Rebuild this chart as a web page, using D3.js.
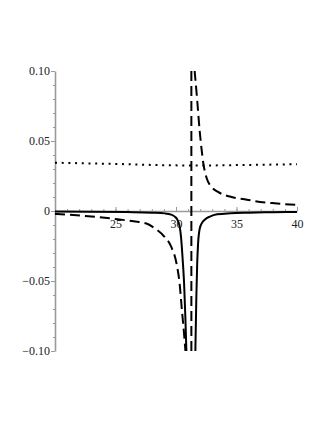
<!DOCTYPE html>
<html>
<head>
<meta charset="utf-8">
<script src="https://cdn.jsdelivr.net/npm/d3@7"></script>
<style>
  html, body { margin: 0; padding: 0; background: #fff; }
  #chart { width: 327px; height: 423px; }
</style>
</head>
<body>
<div id="chart"></div>
<script>
/* Three curves around a pole near x = 31.3, Maple-style axes. */

var xTicks = [25, 30, 35, 40];
var yTicks = [-0.10, -0.05, 0, 0.05, 0.10];
var yTickLabels = ["\u22120.10", "\u22120.05", "0", "0.05", "0.10"];

var solidLeftX = [20, 23, 26, 28, 29.1, 29.6, 29.9, 30.15, 30.3, 30.42, 30.5, 30.6, 30.67, 30.77, 30.86];
var solidLeftY = [-0.0004, -0.0005, -0.0008, -0.0012, -0.0017, -0.0026, -0.004, -0.0068, -0.011, -0.019, -0.028, -0.041, -0.052, -0.075, -0.1];
var solidRightX = [31.6, 31.68, 31.75, 31.82, 31.95, 32.15, 32.4, 32.8, 33.4, 34.5, 36, 38, 40];
var solidRightY = [-0.1, -0.062, -0.038, -0.024, -0.013, -0.0085, -0.006, -0.004, -0.0024, -0.0016, -0.0012, -0.0009, -0.0007];

var dashLeftX = [20, 22.3, 25, 26.5, 27.5, 28.25, 29.05, 29.6, 30.03, 30.3, 30.49, 30.66, 30.78];
var dashLeftY = [-0.0021, -0.0034, -0.0057, -0.0074, -0.0088, -0.0124, -0.0184, -0.0255, -0.037, -0.052, -0.071, -0.087, -0.1];
var dashRightX = [31.54, 31.75, 31.95, 32.12, 32.28, 32.53, 32.94, 33.44, 34.59, 35.66, 36.49, 38.14, 40];
var dashRightY = [0.1, 0.0793, 0.0579, 0.0436, 0.0329, 0.0236, 0.0172, 0.0138, 0.01, 0.0084, 0.0071, 0.0055, 0.0043];

var poleX = 31.27;

var dotX = [20, 25, 30, 32, 35, 40];
var dotY = [0.0345, 0.0336, 0.0326, 0.0325, 0.0328, 0.0334];

(function () {
  var d3 = window.d3;
  var width = 327, height = 423;

  var x = d3.scaleLinear().domain([20, 40]).range([55, 297]);
  var y = d3.scaleLinear().domain([-0.1, 0.1]).range([351, 71]);

  var svg = d3.select("#chart").append("svg")
    .attr("width", width).attr("height", height)
    .attr("font-family", "'Liberation Serif', 'DejaVu Serif', serif");

  svg.append("defs").append("clipPath").attr("id", "plot")
    .append("rect").attr("x", 54).attr("y", 70).attr("width", 245).attr("height", 282);

  var axisColor = "#9a9a9a";

  // minor ticks
  var yMinor = d3.range(-10, 11).map(function (i) { return i / 100; });
  svg.append("g").attr("transform", "translate(" + x(20) + ",0)")
    .call(d3.axisLeft(y).tickValues(yMinor).tickSize(2).tickFormat(""))
    .call(function (g) { g.select(".domain").remove(); g.selectAll("line").attr("stroke", axisColor); });

  var xMinor = d3.range(20, 41);
  svg.append("g").attr("transform", "translate(0," + y(0) + ")")
    .call(d3.axisBottom(x).tickValues(xMinor).tickSize(-2).tickFormat(""))
    .call(function (g) { g.select(".domain").remove(); g.selectAll("line").attr("stroke", axisColor); });

  // y axis
  var yAxis = svg.append("g").attr("transform", "translate(" + x(20) + ",0)")
    .call(d3.axisLeft(y).tickValues(yTicks).tickSizeInner(4).tickSizeOuter(0).tickPadding(1)
      .tickFormat(function (d, i) { return yTickLabels[i]; }));
  yAxis.select(".domain").attr("stroke", axisColor).attr("stroke-width", 1.6);
  yAxis.selectAll("line").attr("stroke", axisColor);
  yAxis.selectAll("text").attr("fill", "#222").attr("font-size", 12)
    .attr("font-family", "'Liberation Serif', 'DejaVu Serif', serif");

  // x axis through zero, ticks pointing up, labels below
  var xAxis = svg.append("g").attr("transform", "translate(0," + y(0) + ")")
    .call(d3.axisBottom(x).tickValues(xTicks).tickSizeInner(-4).tickSizeOuter(0).tickPadding(8)
      .tickFormat(d3.format("d")));
  xAxis.select(".domain").attr("stroke", axisColor).attr("stroke-width", 1.6);
  xAxis.selectAll("line").attr("stroke", axisColor);
  xAxis.selectAll("text").attr("fill", "#222").attr("font-size", 12)
    .attr("font-family", "'Liberation Serif', 'DejaVu Serif', serif");

  var line = d3.line()
    .x(function (d) { return x(d[0]); })
    .y(function (d) { return y(d[1]); })
    .curve(d3.curveMonotoneX);

  function pts(xs, ys) { return xs.map(function (v, i) { return [v, ys[i]]; }); }

  var plot = svg.append("g").attr("clip-path", "url(#plot)");

  // dotted
  plot.append("path").attr("d", line(pts(dotX, dotY)))
    .attr("fill", "none").attr("stroke", "#000").attr("stroke-width", 2)
    .attr("stroke-dasharray", "2,4.7");

  // solid
  [pts(solidLeftX, solidLeftY), pts(solidRightX, solidRightY)].forEach(function (p) {
    plot.append("path").attr("d", line(p))
      .attr("fill", "none").attr("stroke", "#000").attr("stroke-width", 2);
  });

  // dashed
  [pts(dashLeftX, dashLeftY), pts(dashRightX, dashRightY)].forEach(function (p) {
    plot.append("path").attr("d", line(p))
      .attr("fill", "none").attr("stroke", "#000").attr("stroke-width", 2)
      .attr("stroke-dasharray", "10,5");
  });

  plot.append("line")
    .attr("x1", x(poleX)).attr("x2", x(poleX))
    .attr("y1", y(0.1)).attr("y2", y(-0.1))
    .attr("stroke", "#000").attr("stroke-width", 2)
    .attr("stroke-dasharray", "10,5");
})();
</script>
</body>
</html>
